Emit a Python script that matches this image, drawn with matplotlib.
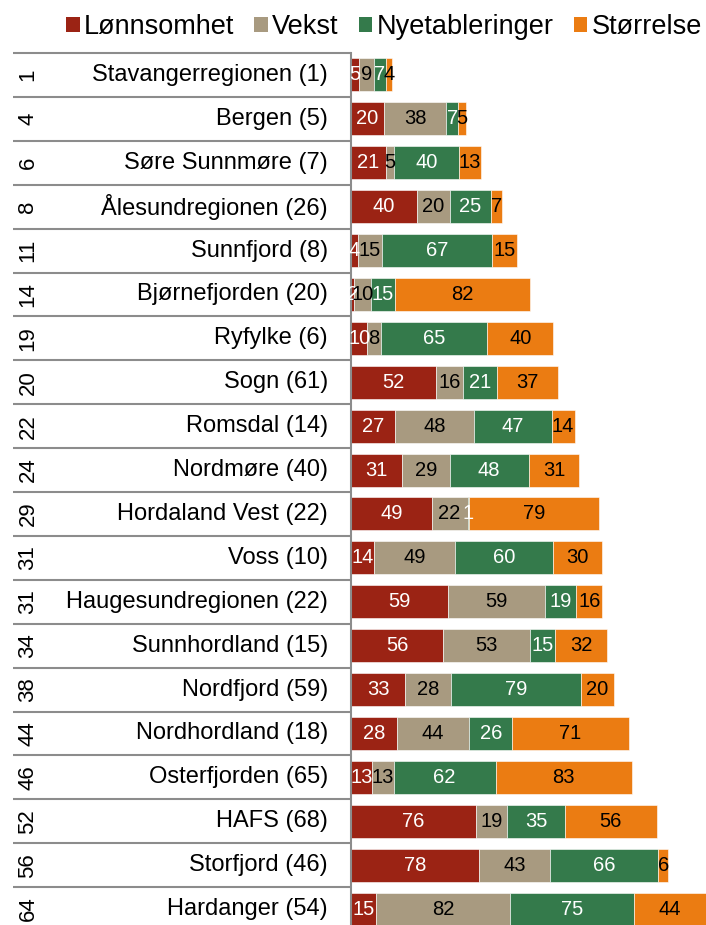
import matplotlib
matplotlib.use("Agg")
import matplotlib.pyplot as plt
import matplotlib.transforms as mtransforms
from matplotlib.patches import Patch

plt.rcParams['font.family'] = ['Liberation Sans', 'DejaVu Sans']

regions = ["Stavangerregionen (1)", "Bergen (5)", "Søre Sunnmøre (7)", "Ålesundregionen (26)",
           "Sunnfjord (8)", "Bjørnefjorden (20)", "Ryfylke (6)", "Sogn (61)", "Romsdal (14)",
           "Nordmøre (40)", "Hordaland Vest (22)", "Voss (10)", "Haugesundregionen (22)",
           "Sunnhordland (15)", "Nordfjord (59)", "Nordhordland (18)", "Osterfjorden (65)",
           "HAFS (68)", "Storfjord (46)", "Hardanger (54)"]
ranks = [1, 4, 6, 8, 11, 14, 19, 20, 22, 24, 29, 31, 31, 34, 38, 44, 46, 52, 56, 64]

lonnsomhet = [5, 20, 21, 40, 4, 2, 10, 52, 27, 31, 49, 14, 59, 56, 33, 28, 13, 76, 78, 15]
vekst = [9, 38, 5, 20, 15, 10, 8, 16, 48, 29, 22, 49, 59, 53, 28, 44, 13, 19, 43, 82]
nyetableringer = [7, 7, 40, 25, 67, 15, 65, 21, 47, 48, 1, 60, 19, 15, 79, 26, 62, 35, 66, 75]
storrelse = [4, 5, 13, 7, 15, 82, 40, 37, 14, 31, 79, 30, 16, 32, 20, 71, 83, 56, 6, 44]

series_names = ["Lønnsomhet", "Vekst", "Nyetableringer", "Størrelse"]
series_values = [lonnsomhet, vekst, nyetableringer, storrelse]
colors = ["#9B2314", "#A89A80", "#347A4B", "#EB7C12"]
text_colors = ["white", "black", "white", "black"]

W, H = 706, 925
fig = plt.figure(figsize=(W / 100, H / 100), dpi=100)

ax_left, ax_right = 351, 706
ax_top, ax_bottom = 53, 931
ax = fig.add_axes([ax_left / W, (H - ax_bottom) / H,
                   (ax_right - ax_left) / W, (ax_bottom - ax_top) / H])

n = len(regions)
ypos = list(range(n))
left = [0] * n
for vals, col, tcol in zip(series_values, colors, text_colors):
    ax.barh(ypos, vals, left=left, height=0.75, color=col,
            edgecolor="white", linewidth=0.4)
    for i, v in enumerate(vals):
        ax.text(left[i] + v / 2, i, str(v), ha="center", va="center",
                color=tcol, fontsize=14.5)
    left = [l + v for l, v in zip(left, vals)]

ax.set_xlim(0, 216)
ax.set_ylim(n - 0.5, -0.5)
ax.set_xticks([])
ax.set_yticks([])
for s in ["top", "right", "bottom"]:
    ax.spines[s].set_visible(False)
ax.spines["left"].set_color("#8C8C8C")
ax.spines["left"].set_linewidth(1.5)

# Table at the left: row separators, rank and region name
tr = mtransforms.blended_transform_factory(fig.transFigure, ax.transData)
line_color = "#8C8C8C"
for k in range(n + 1):
    ax.plot([13 / W, ax_left / W], [k - 0.5, k - 0.5], transform=tr,
            color=line_color, lw=1.5, clip_on=False, solid_capstyle="butt")
for i in range(n):
    ax.text(328 / W, i, regions[i], transform=tr, ha="right", va="center",
            fontsize=17, clip_on=False)
    ax.text(28 / W, i, str(ranks[i]), transform=tr, ha="center", va="center",
            rotation=90, fontsize=16, clip_on=False)

handles = [Patch(facecolor=c, edgecolor="none") for c in colors]
fig.legend(handles, series_names, loc="center", bbox_to_anchor=(384 / W, 1 - 27 / H),
           ncol=4, frameon=False, fontsize=19.5, handlelength=0.5, handleheight=0.5,
           handletextpad=0.15, columnspacing=0.75, borderpad=0)

fig.savefig("out.png", dpi=100)
